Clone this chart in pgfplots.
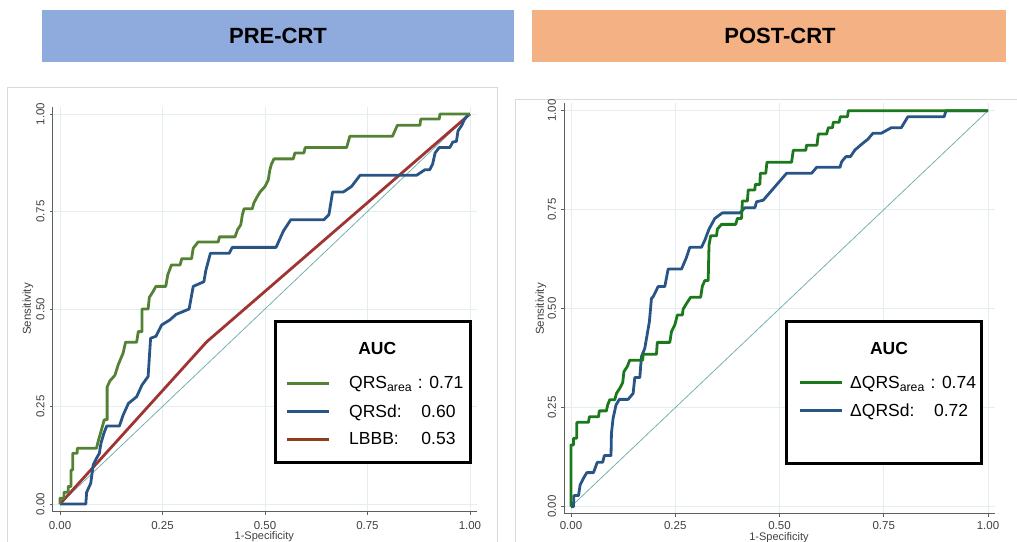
\documentclass[border=0pt]{standalone}
\usepackage{pgfplots}
\pgfplotsset{compat=1.18}
\usepackage{fontspec}
\setmainfont{Liberation Sans}

\definecolor{preblue}{RGB}{143,170,220}
\definecolor{postorange}{RGB}{244,177,131}
\definecolor{qrsgreen}{RGB}{84,130,53}
\definecolor{dqrsgreen}{RGB}{28,120,28}
\definecolor{qrsblue}{RGB}{40,84,134}
\definecolor{lbbbred}{RGB}{160,52,50}
\definecolor{lbbbleg}{RGB}{140,62,22}
\definecolor{refteal}{RGB}{120,176,176}
\definecolor{gridc}{RGB}{228,238,240}
\definecolor{framec}{RGB}{218,218,218}
\definecolor{axisc}{RGB}{95,95,95}

\pgfplotsset{
  rocaxis/.style={
    scale only axis,
    axis x line*=bottom, axis y line*=left,
    axis line style={axisc, line width=1pt, -},
    grid=major, major grid style={gridc, line width=0.6pt},
    xtick={0,0.25,0.5,0.75,1}, ytick={0,0.25,0.5,0.75,1},
    xticklabels={0.00,0.25,0.50,0.75,1.00},
    yticklabels={0.00,0.25,0.50,0.75,1.00},
    tick align=outside, major tick length=3pt,
    tick style={axisc, line width=0.8pt},
    /pgf/number format/assume math mode=true,
    ticklabel style={font=\fontsize{11.5}{12}\selectfont, text=black!75},
    yticklabel style={rotate=90, anchor=south, inner sep=0pt},
    xticklabel style={anchor=north, inner sep=0pt},
    xticklabel shift=6pt, yticklabel shift=5pt,
    clip=false,
  },
  roc/.style={line width=2.8pt, line join=round},
}

\begin{document}
\begin{tikzpicture}[x=1pt,y=1pt]
\path[use as bounding box] (0,0) rectangle (1017,541);

% panel frames
\draw[framec, line width=1pt] (7,-5) -- (7,453) -- (497,453) -- (497,-5);
\draw[framec, line width=1pt] (515,-5) -- (515,441) -- (1022,441);

% headers
\fill[preblue] (42,479) rectangle (514,531);
\fill[postorange] (532,479) rectangle (1006,531);
\node[font=\fontsize{22}{24}\selectfont\bfseries] at (278,504.7) {PRE-CRT};
\node[font=\fontsize{22}{24}\selectfont\bfseries] at (780,504.7) {POST-CRT};

% ---------------- PRE-CRT ----------------
\begin{axis}[rocaxis, at={(52.6pt,29.2pt)}, anchor=south west,
  width=423.9pt, height=404.8pt,
  xmin=-0.018, xmax=1.016, ymin=-0.02, ymax=1.018]
\addplot[refteal, line width=0.8pt] coordinates {(0,0) (1,1)};
\addplot[roc, lbbbred] coordinates {(0,0) (0.358,0.416) (1,1)};
\addplot[roc, qrsblue] coordinates {
(0,0) (0.063,0) (0.065,0.03) (0.075,0.053) (0.081,0.1) (0.089,0.117)
(0.096,0.13) (0.1,0.156) (0.107,0.181) (0.114,0.2) (0.145,0.2)
(0.154,0.228) (0.167,0.258) (0.187,0.275) (0.2,0.305) (0.215,0.327)
(0.221,0.425) (0.234,0.43) (0.248,0.459) (0.268,0.472) (0.283,0.486)
(0.315,0.5) (0.325,0.558) (0.351,0.57) (0.356,0.6) (0.367,0.643)
(0.413,0.643) (0.42,0.658) (0.527,0.658) (0.545,0.7) (0.563,0.729)
(0.644,0.729) (0.656,0.742) (0.665,0.8) (0.691,0.8) (0.711,0.814)
(0.732,0.843) (0.87,0.843) (0.89,0.857) (0.902,0.857) (0.909,0.872)
(0.915,0.9) (0.925,0.914) (0.951,0.914) (0.958,0.928) (0.967,0.93)
(0.971,0.957) (0.98,0.971) (0.986,0.985) (0.995,0.998) (1,1)};
\addplot[roc, qrsgreen] coordinates {
(0,0) (0,0.015) (0.01,0.015) (0.01,0.03) (0.02,0.03) (0.02,0.045)
(0.027,0.045) (0.027,0.087) (0.031,0.087) (0.031,0.13) (0.042,0.13)
(0.042,0.143) (0.089,0.143) (0.093,0.16) (0.1,0.186) (0.108,0.216)
(0.115,0.216) (0.115,0.30) (0.122,0.316) (0.134,0.33) (0.142,0.357)
(0.154,0.387) (0.16,0.415) (0.187,0.415) (0.191,0.442) (0.2,0.442)
(0.2,0.50) (0.215,0.50) (0.218,0.53) (0.226,0.543) (0.234,0.558)
(0.258,0.558) (0.263,0.588) (0.272,0.613) (0.293,0.613) (0.297,0.629)
(0.321,0.629) (0.325,0.656) (0.337,0.672) (0.386,0.672) (0.389,0.685)
(0.427,0.685) (0.433,0.703) (0.441,0.716) (0.445,0.742) (0.449,0.757)
(0.469,0.757) (0.473,0.772) (0.48,0.786) (0.488,0.8) (0.5,0.814)
(0.508,0.831) (0.512,0.857) (0.516,0.872) (0.522,0.885) (0.569,0.885)
(0.573,0.9) (0.595,0.9) (0.598,0.914) (0.699,0.914) (0.703,0.928)
(0.707,0.943) (0.811,0.943) (0.817,0.957) (0.823,0.971) (0.878,0.971)
(0.88,0.987) (0.925,0.987) (0.927,1) (1,1)};
\end{axis}

% ---------------- POST-CRT ----------------
\begin{axis}[rocaxis, at={(564.3pt,27.2pt)}, anchor=south west,
  width=430.8pt, height=411pt, xticklabel shift=4.5pt,
  xmin=-0.016, xmax=1.017, ymin=-0.018, ymax=1.02]
\addplot[refteal, line width=0.8pt] coordinates {(0,0) (1,1)};
\addplot[roc, qrsblue] coordinates {
(0,0) (0.006,0) (0.007,0.028) (0.018,0.028) (0.022,0.055) (0.03,0.072)
(0.038,0.086) (0.054,0.086) (0.063,0.112) (0.076,0.112) (0.08,0.129)
(0.096,0.129) (0.097,0.185) (0.101,0.223) (0.108,0.257) (0.116,0.271)
(0.137,0.271) (0.149,0.286) (0.153,0.326) (0.165,0.326) (0.169,0.379)
(0.177,0.4) (0.188,0.467) (0.193,0.526) (0.197,0.53) (0.209,0.556)
(0.225,0.556) (0.233,0.6) (0.265,0.6) (0.276,0.627) (0.285,0.655)
(0.313,0.655) (0.321,0.673) (0.331,0.701) (0.345,0.728) (0.363,0.742)
(0.405,0.742) (0.417,0.755) (0.441,0.755) (0.445,0.77) (0.461,0.774)
(0.489,0.808) (0.517,0.842) (0.577,0.842) (0.589,0.857) (0.645,0.857)
(0.649,0.871) (0.659,0.884) (0.67,0.884) (0.681,0.901) (0.7,0.918)
(0.712,0.928) (0.724,0.943) (0.744,0.943) (0.768,0.957) (0.792,0.957)
(0.808,0.985) (0.895,0.985) (0.899,1) (1,1)};
\addplot[roc, dqrsgreen] coordinates {
(0,0) (0,0.156) (0.006,0.156) (0.006,0.173) (0.014,0.173) (0.014,0.213)
(0.042,0.213) (0.044,0.227) (0.066,0.227) (0.068,0.242) (0.085,0.242)
(0.088,0.257) (0.093,0.27) (0.105,0.27) (0.109,0.286) (0.117,0.299)
(0.124,0.313) (0.127,0.341) (0.135,0.354) (0.141,0.37) (0.172,0.37)
(0.173,0.385) (0.205,0.385) (0.207,0.415) (0.237,0.415) (0.241,0.442)
(0.249,0.459) (0.255,0.484) (0.267,0.484) (0.269,0.499) (0.277,0.513)
(0.287,0.529) (0.311,0.529) (0.315,0.557) (0.321,0.571) (0.329,0.571)
(0.331,0.661) (0.335,0.684) (0.349,0.684) (0.351,0.701) (0.361,0.713)
(0.395,0.713) (0.399,0.728) (0.409,0.728) (0.411,0.772) (0.423,0.772)
(0.425,0.8) (0.441,0.8) (0.442,0.814) (0.453,0.814) (0.454,0.842)
(0.467,0.842) (0.47,0.87) (0.529,0.87) (0.533,0.9) (0.563,0.9)
(0.565,0.913) (0.59,0.913) (0.593,0.941) (0.613,0.941) (0.617,0.957)
(0.627,0.957) (0.629,0.971) (0.643,0.971) (0.646,0.985) (0.663,0.985)
(0.665,1) (1,1)};
\end{axis}

% axis titles
\node[rotate=90, font=\fontsize{11.5}{12}\selectfont, text=black!75] at (28,232) {Sensitivity};
\node[rotate=90, font=\fontsize{11.5}{12}\selectfont, text=black!75] at (541,232) {Sensitivity};
\node[font=\fontsize{11}{12}\selectfont, text=black!75, inner sep=0pt, anchor=north] at (264.3,9.6) {1-Specificity};
\node[font=\fontsize{11}{12}\selectfont, text=black!75, inner sep=0pt, anchor=north] at (779,8.8) {1-Specificity};

% AUC boxes
\begin{scope}[font=\fontsize{17.5}{19}\selectfont]
\fill[white] (275,219.3) rectangle (470,79);
\draw[black, line width=3pt] (275,219.3) rectangle (470,79);
\node[font=\fontsize{17.5}{19}\selectfont\bfseries] at (377.3,192.7) {AUC};
\draw[qrsgreen, line width=3pt] (287.3,157.7) -- (329.3,157.7);
\draw[qrsblue, line width=3pt] (287.3,129.3) -- (329.3,129.3);
\draw[lbbbleg, line width=3pt] (287.3,102) -- (329.3,102);
\node[anchor=base west, inner sep=0pt] at (349,152) {QRS\textsubscript{area}\,\,: 0.71};
\node[anchor=base west, inner sep=0pt] at (349,123.7) {QRSd:};
\node[anchor=base east, inner sep=0pt] at (455.7,123.7) {0.60};
\node[anchor=base west, inner sep=0pt] at (349,96.7) {LBBB:};
\node[anchor=base east, inner sep=0pt] at (455.7,96.7) {0.53};

\fill[white] (786.7,219.3) rectangle (981.7,78);
\draw[black, line width=3pt] (786.7,219.3) rectangle (981.7,78);
\node[font=\fontsize{17.5}{19}\selectfont\bfseries] at (889,193) {AUC};
\draw[dqrsgreen, line width=3pt] (800,158.3) -- (841.7,158.3);
\draw[qrsblue, line width=3pt] (800,130) -- (841.7,130);
\node[anchor=base west, inner sep=0pt] at (850,152) {ΔQRS\textsubscript{area}\,\,: 0.74};
\node[anchor=base west, inner sep=0pt] at (850,124.3) {ΔQRSd:};
\node[anchor=base east, inner sep=0pt] at (968.3,124.3) {0.72};
\end{scope}
\end{tikzpicture}
\end{document}
